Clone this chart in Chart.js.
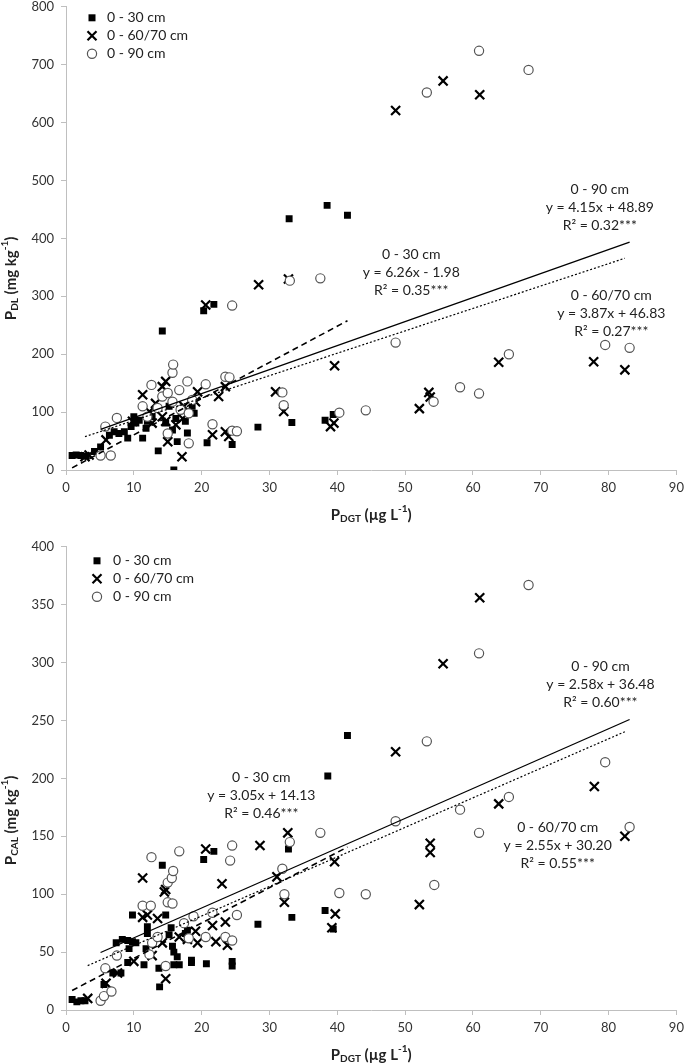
<!DOCTYPE html>
<html>
<head>
<meta charset="utf-8">
<script src="https://cdn.jsdelivr.net/npm/chart.js@4.4.1/dist/chart.umd.min.js"></script>
<style>
  html, body { margin: 0; padding: 0; background: #fff; }
  body { width: 685px; height: 1064px; position: relative; overflow: hidden; }
  .box { position: absolute; left: 0; width: 685px; }
  #dlBox { top: -8px; height: 540px; }
  #calBox { top: 532px; height: 532px; }
</style>
</head>
<body>
<div class="box" id="dlBox"><canvas id="dlChart"></canvas></div>
<div class="box" id="calBox"><canvas id="calChart"></canvas></div>
<script>
// Tick labels
const xTicks = [0, 10, 20, 30, 40, 50, 60, 70, 80, 90];
const dlTicks = [0, 100, 200, 300, 400, 500, 600, 700, 800];
const calTicks = [0, 50, 100, 150, 200, 250, 300, 350, 400];

// Series names
const seriesNames = ['0 - 30 cm', '0 - 60/70 cm', '0 - 90 cm'];

// P_DL vs P_DGT
const dlX30 = [0.9, 1.5, 2.2, 3.0, 4.2, 5.1, 6.4, 7.1, 7.8, 8.6, 9.1, 9.6, 10.0, 10.3, 10.8, 11.3, 11.8, 12.0, 12.7, 13.6, 14.2, 14.7, 15.2, 15.7, 15.9, 16.2, 16.4, 16.9, 17.6, 17.9, 18.6, 18.9, 20.3, 20.8, 21.8, 24.5, 28.3, 32.9, 33.3, 38.2, 38.5, 39.4, 41.5];
const dlY30 = [25, 26, 25, 24, 32, 40, 60, 66, 63, 66, 55, 75, 92, 81, 86, 55, 72, 84, 92, 33, 240, 81, 110, 69, 0, 89, 49, 104, 84, 64, 110, 98, 275, 47, 286, 44, 74, 434, 82, 86, 457, 96, 440];
const dlX60 = [2.8, 3.4, 5.9, 9.8, 11.3, 12.3, 12.7, 13.2, 14.2, 14.2, 14.7, 14.7, 15.0, 16.2, 17.1, 17.2, 17.4, 19.1, 19.4, 20.6, 21.6, 22.5, 23.5, 23.5, 24.0, 28.4, 30.9, 32.1, 32.8, 39.0, 39.5, 39.6, 48.6, 52.1, 53.5, 53.7, 55.6, 61.0, 63.8, 77.8, 82.4];
const dlY60 = [23, 26, 52, 84, 130, 101, 81, 115, 144, 92, 153, 84, 49, 78, 23, 89, 110, 118, 135, 285, 61, 127, 144, 66, 58, 320, 135, 101, 330, 75, 81, 180, 621, 106, 134, 126, 672, 648, 186, 187, 173];
const dlX90 = [5.1, 5.8, 6.6, 7.5, 11.3, 12.0, 12.6, 13.5, 14.2, 15.0, 15.0, 15.7, 15.7, 15.8, 16.7, 16.9, 17.9, 18.1, 18.1, 18.6, 20.6, 21.6, 23.5, 24.1, 24.5, 24.5, 25.2, 31.9, 32.1, 33.0, 37.5, 40.3, 44.2, 48.6, 53.2, 54.2, 58.1, 60.9, 60.9, 65.3, 68.2, 79.5, 83.1];
const dlY90 = [25, 75, 25, 90, 110, 92, 147, 107, 127, 63, 133, 168, 118, 182, 138, 104, 153, 98, 46, 121, 148, 79, 161, 160, 284, 68, 67, 134, 112, 327, 331, 99, 103, 220, 652, 118, 143, 132, 724, 200, 691, 216, 211];
const dlSlope = [6.26, 3.87, 4.15];
const dlIntercept = [-1.98, 46.83, 48.89];
const dlR2 = ['0.35', '0.27', '0.32'];

// P_CAL vs P_DGT
const calX30 = [0.9, 1.6, 2.2, 2.8, 5.6, 6.9, 7.4, 8.1, 8.3, 9.1, 9.1, 9.3, 9.8, 9.8, 10.3, 11.5, 11.8, 12.0, 12.0, 13.7, 13.8, 14.2, 14.7, 15.2, 15.5, 15.7, 15.9, 15.9, 16.4, 16.7, 17.6, 17.9, 18.5, 18.5, 20.3, 20.7, 21.8, 24.5, 24.5, 28.3, 32.8, 33.3, 38.2, 38.6, 39.4, 41.5];
const calY30 = [9, 7, 8, 8, 22, 32, 58, 32, 61, 41, 60, 53, 59, 82, 58, 39, 53, 72, 66, 36, 20, 125, 82, 65, 71, 55, 50, 39, 46, 39, 66, 69, 43, 41, 130, 40, 137, 42, 38, 74, 139, 80, 86, 202, 70, 237];
const calX60 = [3.2, 5.9, 7.6, 10.0, 11.3, 11.3, 12.0, 12.7, 13.5, 14.2, 14.5, 14.7, 14.7, 16.7, 17.9, 19.1, 19.4, 20.6, 21.6, 22.1, 23.0, 23.5, 23.8, 28.6, 31.1, 32.2, 32.7, 39.2, 39.6, 39.7, 48.6, 52.1, 53.7, 53.7, 55.6, 61.0, 63.8, 77.9, 82.4];
const calY60 = [10, 23, 32, 42, 114, 80, 82, 47, 79, 58, 102, 104, 27, 63, 61, 68, 58, 139, 73, 59, 109, 76, 56, 142, 115, 93, 153, 71, 128, 83, 223, 91, 144, 136, 299, 356, 178, 193, 150];
const calX90 = [5.1, 5.6, 5.8, 6.7, 7.5, 11.3, 12.3, 12.5, 12.6, 12.7, 13.5, 14.7, 15.0, 15.0, 15.6, 15.7, 15.8, 16.7, 17.4, 18.1, 18.8, 20.6, 21.6, 23.5, 24.2, 24.5, 24.5, 25.2, 31.9, 32.2, 33.0, 37.5, 40.3, 44.2, 48.6, 53.2, 54.3, 58.1, 60.9, 60.9, 65.3, 68.2, 79.5, 83.1];
const calY90 = [8, 12, 36, 16, 47, 90, 48, 90, 132, 58, 63, 38, 110, 93, 114, 92, 120, 137, 75, 62, 81, 63, 84, 63, 129, 60, 142, 82, 122, 100, 145, 153, 101, 100, 163, 232, 108, 173, 153, 308, 184, 367, 214, 158];
const calSlope = [3.05, 2.55, 2.58];
const calIntercept = [14.13, 30.20, 36.48];
const calR2 = ['0.46', '0.55', '0.60'];

// Styles
const FONT = 'Lato, "Open Sans", sans-serif';
const AXIS_GREY = '#bfbfbf';
const markerKinds = ['square', 'cross', 'circle'];
const lineDashes = [[6, 4], [2, 2], []];
const lineWidths = [1.6, 1.2, 1.3];

function toPoints(xs, ys) {
    return xs.map((x, i) => ({ x: x, y: ys[i] }));
}

function fitLine(xs, slope, intercept) {
    const x0 = Math.min(...xs), x1 = Math.max(...xs);
    return [{ x: x0, y: slope * x0 + intercept }, { x: x1, y: slope * x1 + intercept }];
}

function equation(slope, intercept) {
    const sign = intercept < 0 ? '-' : '+';
    return 'y = ' + slope.toFixed(2) + 'x ' + sign + ' ' + Math.abs(intercept).toFixed(2);
}

function drawMarker(ctx, kind, x, y) {
    ctx.save();
    if (kind === 'square') {
        ctx.fillStyle = '#000';
        ctx.fillRect(x - 3.5, y - 3.5, 7, 7);
    } else if (kind === 'cross') {
        ctx.strokeStyle = '#000';
        ctx.lineWidth = 2.2;
        ctx.beginPath();
        ctx.moveTo(x - 4.5, y - 4.5); ctx.lineTo(x + 4.5, y + 4.5);
        ctx.moveTo(x - 4.5, y + 4.5); ctx.lineTo(x + 4.5, y - 4.5);
        ctx.stroke();
    } else {
        ctx.strokeStyle = '#555';
        ctx.fillStyle = '#fff';
        ctx.lineWidth = 1.2;
        ctx.beginPath();
        ctx.arc(x, y, 4.6, 0, Math.PI * 2);
        ctx.fill();
        ctx.stroke();
    }
    ctx.restore();
}

// text with sub/superscripts, centred on (0,0) of the current transform
function drawRich(ctx, parts) {
    const fonts = { n: 'bold 15px ' + FONT, sub: 'bold 10px ' + FONT, sup: 'bold 10px ' + FONT };
    const shift = { n: 0, sub: 4, sup: -6 };
    let total = 0;
    parts.forEach(p => { ctx.font = fonts[p[1]]; total += ctx.measureText(p[0]).width; });
    let x = -total / 2;
    ctx.textAlign = 'left';
    ctx.textBaseline = 'middle';
    parts.forEach(p => {
        ctx.font = fonts[p[1]];
        ctx.fillText(p[0], x, shift[p[1]]);
        x += ctx.measureText(p[0]).width;
    });
}

function overlayPlugin(cfg) {
    return {
        id: 'overlay',
        afterDraw(chart) {
            const { ctx, chartArea, scales } = chart;
            ctx.save();

            // legend, inside the plot at top-left
            seriesNames.forEach((name, i) => {
                const y = chartArea.top + cfg.legendTop + i * cfg.legendGap;
                drawMarker(ctx, markerKinds[i], chartArea.left + cfg.legendMarkX, y);
                ctx.fillStyle = '#222';
                ctx.font = '14px ' + FONT;
                ctx.textAlign = 'left';
                ctx.textBaseline = 'middle';
                ctx.fillText(name, chartArea.left + cfg.legendTextX, y);
            });

            // trendline notes
            cfg.notes.forEach((pos, i) => {
                const cx = scales.x.getPixelForValue(pos[0]);
                const cy = scales.y.getPixelForValue(pos[1]);
                const lines = [seriesNames[i], equation(cfg.slope[i], cfg.intercept[i]), 'R² = ' + cfg.r2[i] + '***'];
                ctx.fillStyle = '#222';
                ctx.font = '14px ' + FONT;
                ctx.textAlign = 'center';
                ctx.textBaseline = 'middle';
                lines.forEach((t, k) => ctx.fillText(t, cx, cy + k * 18));
            });

            // axis titles
            ctx.fillStyle = '#222';
            ctx.save();
            ctx.translate((chartArea.left + chartArea.right) / 2, chartArea.bottom + 45);
            drawRich(ctx, [['P', 'n'], ['DGT', 'sub'], [' (µg L', 'n'], ['-1', 'sup'], [')', 'n']]);
            ctx.restore();

            ctx.save();
            ctx.translate(11, (chartArea.top + chartArea.bottom) / 2 + cfg.yTitleShift);
            ctx.rotate(-Math.PI / 2);
            drawRich(ctx, [['P', 'n'], [cfg.ySub, 'sub'], [' (mg kg', 'n'], ['-1', 'sup'], [')', 'n']]);
            ctx.restore();

            ctx.restore();
        }
    };
}

function makeChart(canvasId, xs, ys, slope, intercept, yTicks, cfg) {
    const scatterSets = xs.map((x, i) => ({
        type: 'scatter',
        label: seriesNames[i],
        data: toPoints(x, ys[i]),
        order: 3 - i
    }));
    // squares
    Object.assign(scatterSets[0], {
        pointStyle: 'rect', pointRadius: 4.9, backgroundColor: '#000', borderColor: '#000', borderWidth: 0
    });
    // crosses
    Object.assign(scatterSets[1], {
        pointStyle: 'crossRot', pointRadius: 6.4, backgroundColor: '#000', borderColor: '#000', borderWidth: 2.2
    });
    // open circles
    Object.assign(scatterSets[2], {
        pointStyle: 'circle', pointRadius: 4.6, backgroundColor: '#fff', borderColor: '#555', borderWidth: 1.2
    });

    const fitSets = xs.map((x, i) => ({
        type: 'line',
        label: seriesNames[i] + ' fit',
        data: fitLine(x, slope[i], intercept[i]),
        borderColor: '#000',
        borderWidth: lineWidths[i],
        borderDash: lineDashes[i],
        pointRadius: 0,
        fill: false,
        order: 0
    }));

    return new Chart(document.getElementById(canvasId), {
        type: 'scatter',
        data: { datasets: scatterSets.concat(fitSets) },
        options: {
            responsive: true,
            maintainAspectRatio: false,
            animation: false,
            layout: { padding: { top: cfg.padTop, right: 7, bottom: 0, left: 0 } },
            plugins: {
                legend: { display: false },
                tooltip: { enabled: false }
            },
            scales: {
                x: {
                    type: 'linear',
                    min: xTicks[0],
                    max: xTicks[xTicks.length - 1],
                    afterBuildTicks: s => { s.ticks = xTicks.map(v => ({ value: v })); },
                    afterFit: s => { s.height = cfg.xHeight; s.paddingRight = 0; s.paddingLeft = 0; },
                    border: { color: AXIS_GREY, width: 1 },
                    grid: { display: true, drawOnChartArea: false, drawTicks: true, tickLength: 5, color: AXIS_GREY },
                    ticks: { color: '#333', padding: 5, font: { family: FONT, size: 13 } }
                },
                y: {
                    type: 'linear',
                    min: yTicks[0],
                    max: yTicks[yTicks.length - 1],
                    afterBuildTicks: s => { s.ticks = yTicks.map(v => ({ value: v })); },
                    afterFit: s => { s.width = 66; },
                    border: { color: AXIS_GREY, width: 1 },
                    grid: { display: true, drawOnChartArea: false, drawTicks: true, tickLength: 5, color: AXIS_GREY },
                    ticks: { color: '#333', padding: 7, font: { family: FONT, size: 13 } }
                }
            }
        },
        plugins: [overlayPlugin(Object.assign({ slope: slope, intercept: intercept }, cfg))]
    });
}

makeChart('dlChart', [dlX30, dlX60, dlX90], [dlY30, dlY60, dlY90], dlSlope, dlIntercept, dlTicks, {
    padTop: 12, xHeight: 62, r2: dlR2, ySub: 'DL', yTitleShift: 40,
    legendTop: 11, legendGap: 18, legendMarkX: 26, legendTextX: 41,
    notes: [[50.9, 372], [80.4, 302], [78.7, 484]]
});

makeChart('calChart', [calX30, calX60, calX90], [calY30, calY60, calY90], calSlope, calIntercept, calTicks, {
    padTop: 13, xHeight: 54, r2: calR2, ySub: 'CAL', yTitleShift: 42,
    legendTop: 14, legendGap: 18, legendMarkX: 31, legendTextX: 47,
    notes: [[28.8, 200.4], [72.5, 157.4], [78.8, 296.8]]
});
</script>
</body>
</html>
